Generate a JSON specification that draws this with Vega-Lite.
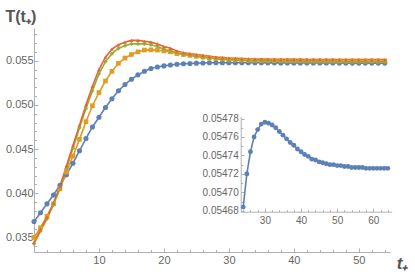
{
  "$schema": "https://vega.github.io/schema/vega-lite/v6.json",
  "width": 356,
  "height": 224,
  "autosize": {"type": "none"},
  "padding": {"left": 34, "top": 28, "right": 25, "bottom": 20},
  "config": {"view": {"stroke": null}, "font": "Liberation Sans"},
  "datasets": {
    "main": [
      {"t":0,"s":"s1","v":0.0368},{"t":1,"s":"s1","v":0.0378},{"t":2,"s":"s1","v":0.0388},{"t":3,"s":"s1","v":0.0398},{"t":4,"s":"s1","v":0.0409},{"t":5,"s":"s1","v":0.0421},{"t":6,"s":"s1","v":0.0434},{"t":7,"s":"s1","v":0.0448},{"t":8,"s":"s1","v":0.0462},{"t":9,"s":"s1","v":0.0475},{"t":10,"s":"s1","v":0.0486},{"t":11,"s":"s1","v":0.0497},{"t":12,"s":"s1","v":0.0507},{"t":13,"s":"s1","v":0.0516},{"t":14,"s":"s1","v":0.0523},{"t":15,"s":"s1","v":0.0529},{"t":16,"s":"s1","v":0.0534},{"t":17,"s":"s1","v":0.0538},{"t":18,"s":"s1","v":0.05412},{"t":19,"s":"s1","v":0.05428},{"t":20,"s":"s1","v":0.05441},{"t":21,"s":"s1","v":0.05452},{"t":22,"s":"s1","v":0.0546},{"t":23,"s":"s1","v":0.05465},{"t":24,"s":"s1","v":0.054684},{"t":25,"s":"s1","v":0.05472},{"t":26,"s":"s1","v":0.054744},{"t":27,"s":"s1","v":0.05476},{"t":28,"s":"s1","v":0.054768},{"t":29,"s":"s1","v":0.054774},{"t":30,"s":"s1","v":0.054776},{"t":31,"s":"s1","v":0.054775},{"t":32,"s":"s1","v":0.054773},{"t":33,"s":"s1","v":0.05477},{"t":34,"s":"s1","v":0.054766},{"t":35,"s":"s1","v":0.054762},{"t":36,"s":"s1","v":0.054758},{"t":37,"s":"s1","v":0.054754},{"t":38,"s":"s1","v":0.054751},{"t":39,"s":"s1","v":0.054747},{"t":40,"s":"s1","v":0.054744},{"t":41,"s":"s1","v":0.054741},{"t":42,"s":"s1","v":0.054739},{"t":43,"s":"s1","v":0.054736},{"t":44,"s":"s1","v":0.054735},{"t":45,"s":"s1","v":0.054733},{"t":46,"s":"s1","v":0.054732},{"t":47,"s":"s1","v":0.054731},{"t":48,"s":"s1","v":0.05473},{"t":49,"s":"s1","v":0.05473},{"t":50,"s":"s1","v":0.054729},{"t":51,"s":"s1","v":0.054729},{"t":52,"s":"s1","v":0.054728},{"t":53,"s":"s1","v":0.054728},{"t":54,"s":"s1","v":0.054727},
      {"t":0,"s":"s2","v":0.0350},{"t":1,"s":"s2","v":0.0361},{"t":2,"s":"s2","v":0.0374},{"t":3,"s":"s2","v":0.0388},{"t":4,"s":"s2","v":0.0405},{"t":5,"s":"s2","v":0.0424},{"t":6,"s":"s2","v":0.0442},{"t":7,"s":"s2","v":0.0461},{"t":8,"s":"s2","v":0.0481},{"t":9,"s":"s2","v":0.0499},{"t":10,"s":"s2","v":0.0514},{"t":11,"s":"s2","v":0.0527},{"t":12,"s":"s2","v":0.0538},{"t":13,"s":"s2","v":0.0547},{"t":14,"s":"s2","v":0.0553},{"t":15,"s":"s2","v":0.0557},{"t":16,"s":"s2","v":0.0560},{"t":17,"s":"s2","v":0.0562},{"t":18,"s":"s2","v":0.05623},{"t":19,"s":"s2","v":0.0562},{"t":20,"s":"s2","v":0.0561},{"t":21,"s":"s2","v":0.0560},{"t":22,"s":"s2","v":0.0558},{"t":23,"s":"s2","v":0.0557},{"t":24,"s":"s2","v":0.0556},{"t":25,"s":"s2","v":0.0555},{"t":26,"s":"s2","v":0.0554},{"t":27,"s":"s2","v":0.0553},{"t":28,"s":"s2","v":0.05525},{"t":29,"s":"s2","v":0.0552},{"t":30,"s":"s2","v":0.05515},{"t":31,"s":"s2","v":0.0551},{"t":32,"s":"s2","v":0.05507},{"t":33,"s":"s2","v":0.05505},{"t":34,"s":"s2","v":0.05503},{"t":35,"s":"s2","v":0.05502},{"t":36,"s":"s2","v":0.05501},{"t":37,"s":"s2","v":0.05500},{"t":38,"s":"s2","v":0.05500},{"t":39,"s":"s2","v":0.05499},{"t":40,"s":"s2","v":0.05499},{"t":41,"s":"s2","v":0.05499},{"t":42,"s":"s2","v":0.05498},{"t":43,"s":"s2","v":0.05498},{"t":44,"s":"s2","v":0.05498},{"t":45,"s":"s2","v":0.05498},{"t":46,"s":"s2","v":0.05498},{"t":47,"s":"s2","v":0.05497},{"t":48,"s":"s2","v":0.05497},{"t":49,"s":"s2","v":0.05497},{"t":50,"s":"s2","v":0.05497},{"t":51,"s":"s2","v":0.05497},{"t":52,"s":"s2","v":0.05497},{"t":53,"s":"s2","v":0.05497},{"t":54,"s":"s2","v":0.05497},
      {"t":0,"s":"s3","v":0.0343},{"t":1,"s":"s3","v":0.0357},{"t":2,"s":"s3","v":0.0371},{"t":3,"s":"s3","v":0.0387},{"t":4,"s":"s3","v":0.0406},{"t":5,"s":"s3","v":0.0428},{"t":6,"s":"s3","v":0.0451},{"t":7,"s":"s3","v":0.0474},{"t":8,"s":"s3","v":0.0496},{"t":9,"s":"s3","v":0.0516},{"t":10,"s":"s3","v":0.0535},{"t":11,"s":"s3","v":0.0549},{"t":12,"s":"s3","v":0.0558},{"t":13,"s":"s3","v":0.0564},{"t":14,"s":"s3","v":0.0567},{"t":15,"s":"s3","v":0.0569},{"t":16,"s":"s3","v":0.0569},{"t":17,"s":"s3","v":0.0569},{"t":18,"s":"s3","v":0.0568},{"t":19,"s":"s3","v":0.0566},{"t":20,"s":"s3","v":0.0563},{"t":21,"s":"s3","v":0.0561},{"t":22,"s":"s3","v":0.0559},{"t":23,"s":"s3","v":0.0557},{"t":24,"s":"s3","v":0.0556},{"t":25,"s":"s3","v":0.0555},{"t":26,"s":"s3","v":0.0554},{"t":27,"s":"s3","v":0.0553},{"t":28,"s":"s3","v":0.05522},{"t":29,"s":"s3","v":0.05515},{"t":30,"s":"s3","v":0.0551},{"t":31,"s":"s3","v":0.05506},{"t":32,"s":"s3","v":0.05503},{"t":33,"s":"s3","v":0.0550},{"t":34,"s":"s3","v":0.05498},{"t":35,"s":"s3","v":0.05496},{"t":36,"s":"s3","v":0.05495},{"t":37,"s":"s3","v":0.05494},{"t":38,"s":"s3","v":0.05493},{"t":39,"s":"s3","v":0.05492},{"t":40,"s":"s3","v":0.05492},{"t":41,"s":"s3","v":0.05491},{"t":42,"s":"s3","v":0.05491},{"t":43,"s":"s3","v":0.0549},{"t":44,"s":"s3","v":0.0549},{"t":45,"s":"s3","v":0.0549},{"t":46,"s":"s3","v":0.05489},{"t":47,"s":"s3","v":0.05489},{"t":48,"s":"s3","v":0.05489},{"t":49,"s":"s3","v":0.05489},{"t":50,"s":"s3","v":0.05488},{"t":51,"s":"s3","v":0.05488},{"t":52,"s":"s3","v":0.05488},{"t":53,"s":"s3","v":0.05488},{"t":54,"s":"s3","v":0.05488},
      {"t":0,"s":"s4","v":0.0344},{"t":1,"s":"s4","v":0.0359},{"t":2,"s":"s4","v":0.0373},{"t":3,"s":"s4","v":0.0389},{"t":4,"s":"s4","v":0.0408},{"t":5,"s":"s4","v":0.0431},{"t":6,"s":"s4","v":0.0454},{"t":7,"s":"s4","v":0.0477},{"t":8,"s":"s4","v":0.0500},{"t":9,"s":"s4","v":0.0521},{"t":10,"s":"s4","v":0.0540},{"t":11,"s":"s4","v":0.0554},{"t":12,"s":"s4","v":0.0563},{"t":13,"s":"s4","v":0.0568},{"t":14,"s":"s4","v":0.0571},{"t":15,"s":"s4","v":0.0573},{"t":16,"s":"s4","v":0.0573},{"t":17,"s":"s4","v":0.0572},{"t":18,"s":"s4","v":0.0571},{"t":19,"s":"s4","v":0.0569},{"t":20,"s":"s4","v":0.0566},{"t":21,"s":"s4","v":0.0564},{"t":22,"s":"s4","v":0.0561},{"t":23,"s":"s4","v":0.0559},{"t":24,"s":"s4","v":0.0558},{"t":25,"s":"s4","v":0.0557},{"t":26,"s":"s4","v":0.0556},{"t":27,"s":"s4","v":0.0555},{"t":28,"s":"s4","v":0.0554},{"t":29,"s":"s4","v":0.05535},{"t":30,"s":"s4","v":0.0553},{"t":31,"s":"s4","v":0.05527},{"t":32,"s":"s4","v":0.05524},{"t":33,"s":"s4","v":0.05522},{"t":34,"s":"s4","v":0.0552},{"t":35,"s":"s4","v":0.05518},{"t":36,"s":"s4","v":0.05517},{"t":37,"s":"s4","v":0.05516},{"t":38,"s":"s4","v":0.05516},{"t":39,"s":"s4","v":0.05515},{"t":40,"s":"s4","v":0.05515},{"t":41,"s":"s4","v":0.05515},{"t":42,"s":"s4","v":0.05514},{"t":43,"s":"s4","v":0.05514},{"t":44,"s":"s4","v":0.05514},{"t":45,"s":"s4","v":0.05514},{"t":46,"s":"s4","v":0.05514},{"t":47,"s":"s4","v":0.05513},{"t":48,"s":"s4","v":0.05513},{"t":49,"s":"s4","v":0.05513},{"t":50,"s":"s4","v":0.05513},{"t":51,"s":"s4","v":0.05513},{"t":52,"s":"s4","v":0.05513},{"t":53,"s":"s4","v":0.05513},{"t":54,"s":"s4","v":0.05513}
    ],
    "inset": [
      {"t":24,"v":0.054684},{"t":25,"v":0.05472},{"t":26,"v":0.054744},{"t":27,"v":0.05476},{"t":28,"v":0.054768},{"t":29,"v":0.054774},{"t":30,"v":0.054776},{"t":31,"v":0.054775},{"t":32,"v":0.054773},{"t":33,"v":0.05477},{"t":34,"v":0.054766},{"t":35,"v":0.054762},{"t":36,"v":0.054758},{"t":37,"v":0.054754},{"t":38,"v":0.054751},{"t":39,"v":0.054747},{"t":40,"v":0.054744},{"t":41,"v":0.054741},{"t":42,"v":0.054739},{"t":43,"v":0.054736},{"t":44,"v":0.054735},{"t":45,"v":0.054733},{"t":46,"v":0.054732},{"t":47,"v":0.054731},{"t":48,"v":0.05473},{"t":49,"v":0.05473},{"t":50,"v":0.054729},{"t":51,"v":0.054729},{"t":52,"v":0.054728},{"t":53,"v":0.054728},{"t":54,"v":0.054727},{"t":55,"v":0.054727},{"t":56,"v":0.054727},{"t":57,"v":0.054727},{"t":58,"v":0.054726},{"t":59,"v":0.054726},{"t":60,"v":0.054726},{"t":61,"v":0.054726},{"t":62,"v":0.054726},{"t":63,"v":0.054726},{"t":64,"v":0.054726}
    ]
  },
  "layer": [
    {
      "data": {"name": "main"},
      "encoding": {
        "x": {"field": "t", "type": "quantitative",
          "scale": {"domain": [0, 54.8], "nice": false, "zero": false},
          "axis": {
            "values": [2,4,6,8,10,12,14,16,18,20,22,24,26,28,30,32,34,36,38,40,42,44,46,48,50,52,54],
            "labelExpr": "datum.value % 10 === 0 ? datum.label : ''",
            "tickSize": {"condition": {"test": "datum.value % 10 === 0", "value": -4}, "value": -2.5},
            "grid": false, "domainColor": "#b0b0b0", "tickColor": "#b0b0b0",
            "labelColor": "#666666", "labelFontSize": 11, "labelPadding": 6.5,
            "title": "t₊", "titleFontSize": 17, "titleFontStyle": "italic", "titleFontWeight": "bold",
            "titleColor": "#555555", "titleX": 368, "titleY": 3, "titleAlign": "center", "titleBaseline": "top"
          }},
        "y": {"field": "v", "type": "quantitative",
          "scale": {"domain": [0.03335, 0.0587], "nice": false, "zero": false},
          "axis": {
            "values": [0.034,0.035,0.036,0.037,0.038,0.039,0.040,0.041,0.042,0.043,0.044,0.045,0.046,0.047,0.048,0.049,0.050,0.051,0.052,0.053,0.054,0.055,0.056,0.057,0.058],
            "labelExpr": "round(datum.value*1000) % 5 === 0 ? format(datum.value, '.3f') : ''",
            "tickSize": {"condition": {"test": "round(datum.value*1000) % 5 === 0", "value": -4}, "value": -2.5},
            "grid": false, "domainColor": "#b0b0b0", "tickColor": "#b0b0b0",
            "labelColor": "#666666", "labelFontSize": 11, "labelPadding": 5,
            "title": "T(t₊)", "titleFontSize": 16, "titleFontWeight": "bold", "titleColor": "#555555",
            "titleAngle": 0, "titleX": -29, "titleY": -12, "titleAlign": "left", "titleBaseline": "middle"
          }},
        "color": {"field": "s", "type": "nominal", "legend": null,
          "scale": {"domain": ["s1","s2","s3","s4"], "range": ["#5E81B5","#E19C24","#8FB032","#EB6235"]}}
      },
      "layer": [
        {"mark": {"type": "line", "strokeWidth": 1.6}},
        {"mark": {"type": "point", "filled": true, "opacity": 1},
         "encoding": {
           "shape": {"field": "s", "type": "nominal", "legend": null,
             "scale": {"domain": ["s1","s2","s3","s4"], "range": ["circle","square","diamond","triangle-up"]}},
           "size": {"field": "s", "type": "nominal", "legend": null,
             "scale": {"domain": ["s1","s2","s3","s4"], "range": [26, 14, 22, 22]}}
         }}
      ]
    },
    {
      "data": {"name": "inset"},
      "encoding": {
        "x": {"field": "t", "type": "quantitative",
          "scale": {"domain": [23.3, 65.1], "range": [206.7, 357.7], "nice": false, "zero": false},
          "axis": {
            "orient": "bottom", "offset": -40.3,
            "values": [24,26,28,30,32,34,36,38,40,42,44,46,48,50,52,54,56,58,60,62,64],
            "labelExpr": "datum.value % 10 === 0 ? datum.label : ''",
            "tickSize": {"condition": {"test": "datum.value % 10 === 0", "value": -3.5}, "value": -2},
            "grid": false, "domainColor": "#b0b0b0", "tickColor": "#b0b0b0",
            "labelColor": "#666666", "labelFontSize": 10, "labelPadding": 7, "title": null
          }},
        "y": {"field": "v", "type": "quantitative",
          "scale": {"domain": [0.054679, 0.054782], "range": [183.7, 88.7], "nice": false, "zero": false},
          "axis": {
            "orient": "left", "offset": -206.7,
            "values": [0.05468,0.05469,0.0547,0.05471,0.05472,0.05473,0.05474,0.05475,0.05476,0.05477,0.05478],
            "labelExpr": "round(datum.value*100000) % 2 === 0 ? format(datum.value, '.5f') : ''",
            "tickSize": {"condition": {"test": "round(datum.value*100000) % 2 === 0", "value": -3.5}, "value": -2},
            "grid": false, "domainColor": "#b0b0b0", "tickColor": "#b0b0b0",
            "labelColor": "#666666", "labelFontSize": 10, "labelPadding": 6, "title": null
          }}
      },
      "layer": [
        {"mark": {"type": "line", "strokeWidth": 1.6, "color": "#5E81B5"}},
        {"mark": {"type": "point", "filled": true, "opacity": 1, "shape": "circle", "size": 24, "color": "#5E81B5"}}
      ]
    }
  ],
  "resolve": {"scale": {"x": "independent", "y": "independent"}}
}
